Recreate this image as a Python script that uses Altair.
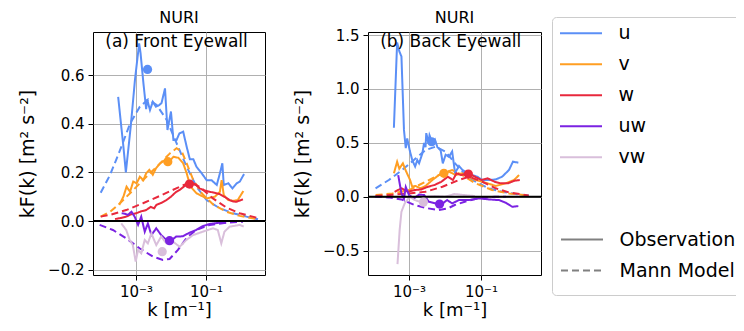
import altair as alt
import pandas as pd

# ---------------- data (log10 k, kF(k)) ----------------
VARS = ["u", "v", "w", "uw", "vw"]
MODELS = ["Observation", "Mann Model"]
COLORS = ["#5b8ff6", "#ff9e22", "#e8283c", "#7b22e2", "#d9bfdb"]

# Panel (a) Front Eyewall
A_U_OBS = [(-3.51, 0.51), (-3.36, 0.305), (-3.29, 0.20), (-3.15, 0.39), (-3.03, 0.58), (-2.91, 0.73),
           (-2.87, 0.69), (-2.79, 0.57), (-2.71, 0.46), (-2.68, 0.50), (-2.60, 0.456), (-2.52, 0.49),
           (-2.43, 0.47), (-2.33, 0.477), (-2.27, 0.485), (-2.17, 0.545), (-2.10, 0.374), (-2.00, 0.45),
           (-1.93, 0.333), (-1.84, 0.333), (-1.76, 0.36), (-1.65, 0.367), (-1.55, 0.305), (-1.46, 0.254),
           (-1.36, 0.254), (-1.27, 0.223), (-1.12, 0.196), (-0.98, 0.168), (-0.84, 0.168), (-0.69, 0.148),
           (-0.60, 0.196), (-0.53, 0.237), (-0.49, 0.148), (-0.36, 0.155), (-0.24, 0.134), (-0.12, 0.155),
           (-0.03, 0.162), (0.09, 0.193)]
A_U_MANN = [(-4.01, 0.116), (-3.74, 0.19), (-3.46, 0.29), (-3.17, 0.40), (-2.89, 0.47), (-2.65, 0.50),
            (-2.41, 0.477), (-2.12, 0.415), (-1.84, 0.32), (-1.55, 0.223), (-1.27, 0.141), (-0.98, 0.086),
            (-0.60, 0.052), (-0.22, 0.032), (0.16, 0.018), (0.49, 0.007)]
A_V_OBS = [(-3.48, 0.066), (-3.36, 0.10), (-3.27, 0.141), (-3.17, 0.12), (-3.08, 0.162), (-2.98, 0.155),
           (-2.89, 0.182), (-2.79, 0.168), (-2.71, 0.196), (-2.62, 0.21), (-2.52, 0.19), (-2.43, 0.216),
           (-2.31, 0.237), (-2.17, 0.25), (-2.05, 0.245), (-1.93, 0.264), (-1.79, 0.26), (-1.65, 0.237),
           (-1.55, 0.196), (-1.44, 0.141), (-1.27, 0.114), (-0.98, 0.093), (-0.74, 0.10), (-0.60, 0.12),
           (-0.55, 0.168), (-0.49, 0.107), (-0.36, 0.086), (-0.22, 0.083), (-0.09, 0.086), (0.07, 0.123)]
A_V_MANN = [(-4.01, 0.018), (-3.74, 0.038), (-3.46, 0.073), (-3.17, 0.114), (-2.89, 0.155), (-2.60, 0.196),
            (-2.31, 0.237), (-2.03, 0.278), (-1.84, 0.299), (-1.69, 0.285), (-1.55, 0.237), (-1.36, 0.168),
            (-1.12, 0.114), (-0.78, 0.066), (-0.41, 0.038), (-0.03, 0.021), (0.45, 0.008)]
A_W_OBS = [(-3.60, 0.008), (-3.45, 0.012), (-3.28, 0.018), (-3.13, 0.028), (-2.99, 0.032), (-2.85, 0.04),
           (-2.71, 0.045), (-2.58, 0.058), (-2.48, 0.052), (-2.42, 0.066), (-2.27, 0.075), (-2.13, 0.086),
           (-2.00, 0.10), (-1.85, 0.12), (-1.73, 0.13), (-1.61, 0.144), (-1.49, 0.15), (-1.37, 0.155),
           (-1.28, 0.15), (-1.18, 0.134), (-1.03, 0.125), (-0.89, 0.12), (-0.75, 0.116), (-0.61, 0.111),
           (-0.45, 0.098), (-0.32, 0.086), (-0.22, 0.08), (-0.13, 0.079), (0.06, 0.089)]
A_W_MANN = [(-4.01, 0.018), (-3.75, 0.025), (-3.28, 0.045), (-2.80, 0.073), (-2.32, 0.103), (-1.85, 0.134),
            (-1.47, 0.158), (-1.18, 0.141), (-0.80, 0.093), (-0.42, 0.056), (-0.04, 0.032), (0.44, 0.014),
            (0.55, 0.010)]
A_UW_OBS = [(-3.41, 0.032), (-3.32, 0.030), (-3.23, 0.025), (-3.13, 0.038), (-3.04, 0.018), (-2.94, -0.016),
            (-2.85, 0.018), (-2.75, -0.044), (-2.66, -0.01), (-2.56, -0.058), (-2.42, -0.03), (-2.28, -0.058),
            (-2.13, -0.078), (-1.99, -0.08), (-1.85, -0.064), (-1.66, -0.063), (-1.47, -0.048), (-1.28, -0.037),
            (-1.09, -0.021), (-0.89, -0.012), (-0.61, -0.007), (-0.42, -0.007)]
A_UW_MANN = [(-4.04, -0.016), (-3.66, -0.037), (-3.28, -0.071), (-2.90, -0.112), (-2.51, -0.147),
             (-2.23, -0.16), (-2.04, -0.156), (-1.80, -0.119), (-1.56, -0.071), (-1.28, -0.037),
             (-0.89, -0.016), (-0.42, -0.007), (0.06, -0.003)]
A_VW_OBS = [(-3.42, -0.01), (-3.28, -0.037), (-3.18, -0.078), (-3.09, -0.099), (-3.01, -0.167), (-2.94, -0.119),
            (-2.85, -0.133), (-2.75, -0.078), (-2.66, -0.092), (-2.56, -0.051), (-2.42, -0.099), (-2.28, -0.064),
            (-2.13, -0.092), (-1.94, -0.085), (-1.75, -0.106), (-1.56, -0.078), (-1.37, -0.058), (-1.09, -0.044),
            (-0.80, -0.03), (-0.66, -0.037), (-0.56, -0.092), (-0.47, -0.044), (-0.32, -0.023), (-0.18, -0.02),
            (-0.04, -0.016), (0.08, -0.023)]
A_DOTS = [(-2.67, 0.623), (-2.09, 0.244), (-1.47, 0.152), (-2.04, -0.081), (-2.25, -0.126)]

# Panel (b) Back Eyewall
B_U_OBS = [(-3.42, 0.64), (-3.33, 1.43), (-3.27, 1.35), (-3.21, 1.30), (-3.14, 0.62), (-3.09, 0.45),
           (-3.05, 0.54), (-2.98, 0.43), (-2.91, 0.34), (-2.83, 0.28), (-2.77, 0.34), (-2.72, 0.31),
           (-2.63, 0.40), (-2.58, 0.50), (-2.54, 0.46), (-2.52, 0.59), (-2.46, 0.50), (-2.43, 0.57),
           (-2.35, 0.50), (-2.28, 0.53), (-2.21, 0.46), (-2.12, 0.43), (-2.06, 0.31), (-1.98, 0.39),
           (-1.89, 0.37), (-1.80, 0.42), (-1.72, 0.22), (-1.61, 0.285), (-1.52, 0.25), (-1.38, 0.22),
           (-1.24, 0.20), (-1.10, 0.186), (-0.96, 0.155), (-0.78, 0.155), (-0.59, 0.16), (-0.41, 0.186),
           (-0.22, 0.248), (-0.11, 0.325), (0.04, 0.316)]
B_U_MANN = [(-3.93, 0.078), (-3.56, 0.155), (-3.19, 0.248), (-2.81, 0.356), (-2.54, 0.433), (-2.26, 0.464),
            (-1.98, 0.417), (-1.72, 0.31), (-1.43, 0.201), (-1.15, 0.139), (-0.78, 0.078), (-0.41, 0.046),
            (-0.04, 0.025), (0.33, 0.012)]
B_V_OBS = [(-3.42, 0.217), (-3.33, 0.325), (-3.27, 0.26), (-3.17, 0.31), (-3.10, 0.25), (-2.97, 0.155),
           (-2.91, 0.093), (-2.82, 0.10), (-2.68, 0.078), (-2.54, 0.10), (-2.35, 0.155), (-2.17, 0.201),
           (-2.03, 0.217), (-1.89, 0.233), (-1.70, 0.201), (-1.52, 0.217), (-1.33, 0.186), (-1.15, 0.155),
           (-0.87, 0.13), (-0.59, 0.10), (-0.31, 0.124), (-0.08, 0.155), (0.06, 0.201)]
B_V_MANN = [(-3.93, 0.016), (-3.46, 0.03), (-3.00, 0.062), (-2.54, 0.139), (-2.07, 0.217), (-1.80, 0.248),
            (-1.52, 0.201), (-1.15, 0.124), (-0.69, 0.062), (-0.22, 0.031), (0.33, 0.01)]
B_W_OBS = [(-3.40, 0.046), (-3.21, 0.078), (-3.03, 0.046), (-2.84, 0.062), (-2.66, 0.068), (-2.47, 0.093),
           (-2.29, 0.109), (-2.10, 0.139), (-1.92, 0.186), (-1.78, 0.155), (-1.68, 0.217), (-1.55, 0.201),
           (-1.36, 0.217), (-1.17, 0.186), (-0.99, 0.155), (-0.81, 0.17), (-0.62, 0.139), (-0.44, 0.124),
           (-0.25, 0.124), (-0.07, 0.148), (0.08, 0.155)]
B_W_MANN = [(-3.93, 0.006), (-3.00, 0.031), (-2.54, 0.046), (-2.07, 0.093), (-1.61, 0.155), (-1.33, 0.186),
            (-0.96, 0.139), (-0.59, 0.078), (-0.22, 0.04), (0.33, 0.012)]
B_UW_OBS = [(-3.30, 0.20), (-3.21, 0.03), (-3.14, -0.02), (-3.09, 0.09), (-3.00, 0.016), (-2.86, -0.015),
            (-2.72, 0.02), (-2.58, 0.016), (-2.45, -0.046), (-2.26, -0.062), (-2.12, -0.077), (-1.94, -0.031),
            (-1.80, -0.062), (-1.61, -0.031), (-1.33, -0.031), (-1.06, -0.015), (-0.78, -0.025), (-0.50, -0.031),
            (-0.31, -0.056), (-0.13, -0.093), (0.04, -0.087)]
B_UW_MANN = [(-3.95, 0.0), (-3.58, -0.006), (-3.21, -0.025), (-2.84, -0.077), (-2.47, -0.108), (-2.19, -0.124),
             (-1.92, -0.108), (-1.73, -0.077), (-1.45, -0.046), (-1.08, -0.015), (-0.62, 0.0), (-0.30, 0.0)]
B_VW_OBS = [(-3.32, -0.625), (-3.26, -0.309), (-3.21, -0.139), (-3.12, -0.062), (-2.98, 0.0), (-2.84, -0.031),
            (-2.70, -0.046), (-2.52, 0.0), (-2.29, 0.006), (-2.01, 0.0), (-1.73, 0.025), (-1.45, 0.015),
            (-1.17, 0.006)]
B_DOTS = [(-2.37, 0.51), (-2.03, 0.217), (-1.35, 0.21), (-2.15, -0.068), (-2.60, -0.05)]

PANEL_TITLES = ["(a) Front Eyewall", "(b) Back Eyewall"]
A_YTICKS = [-0.2, 0.0, 0.2, 0.4, 0.6]
B_YTICKS = [-0.5, 0.0, 0.5, 1.0, 1.5]
XTICKS = [1e-3, 1e-1]


def lines_df(series):
    rows = []
    for (var, model), pts in series.items():
        for i, (lk, v) in enumerate(pts):
            rows.append({"var": var, "model": model, "series": var + model, "i": i, "k": 10 ** lk, "val": v})
    return pd.DataFrame(rows)


def dots_df(pts):
    return pd.DataFrame([{"var": var, "k": 10 ** lk, "val": v} for var, (lk, v) in zip(VARS, pts)])


A_LINES = lines_df({("u", "Observation"): A_U_OBS, ("u", "Mann Model"): A_U_MANN,
                    ("v", "Observation"): A_V_OBS, ("v", "Mann Model"): A_V_MANN,
                    ("w", "Observation"): A_W_OBS, ("w", "Mann Model"): A_W_MANN,
                    ("uw", "Observation"): A_UW_OBS, ("uw", "Mann Model"): A_UW_MANN,
                    ("vw", "Observation"): A_VW_OBS})
B_LINES = lines_df({("u", "Observation"): B_U_OBS, ("u", "Mann Model"): B_U_MANN,
                    ("v", "Observation"): B_V_OBS, ("v", "Mann Model"): B_V_MANN,
                    ("w", "Observation"): B_W_OBS, ("w", "Mann Model"): B_W_MANN,
                    ("uw", "Observation"): B_UW_OBS, ("uw", "Mann Model"): B_UW_MANN,
                    ("vw", "Observation"): B_VW_OBS})

FONT = "DejaVu Sans"
cscale = alt.Scale(domain=VARS, range=COLORS)
dscale = alt.Scale(domain=MODELS, range=[[1, 0], [7, 4]])

# origin of the drawing = top-left of panel (a) plot area, at page (93, 32)
OX, OY = 93, 32
PL, PT = OX - 8, OY - 8
SVG_W, SVG_H = 728, 311
LEG_FS = 19
SYM = "M-1.077,0H1.077"   # 42 px long line at symbolSize 1521
color_legend = alt.Legend(orient="none", legendX=560 - OX, legendY=18 - OY, title=None,
                          symbolType=SYM, symbolSize=1521, symbolStrokeWidth=2, clipHeight=30.5,
                          labelFontSize=LEG_FS, labelFont=FONT, labelColor="black",
                          rowPadding=0, symbolOffset=0.5, labelOffset=17, padding=0)
dash_legend = alt.Legend(orient="none", legendX=552 - OX, legendY=17 - OY, title=" ",
                         titleFontSize=1, titlePadding=197,
                         symbolType=SYM, symbolSize=1521, symbolStrokeWidth=2, clipHeight=31,
                         symbolStrokeColor="#808080",
                         labelFontSize=LEG_FS, labelFont=FONT, labelColor="black",
                         rowPadding=0, symbolOffset=0.5, labelOffset=17, padding=9,
                         strokeColor="#cccccc", cornerRadius=4)


def panel(lines, dots, xdom, ydom, yticks, note, note_v, width, title_offset):
    x = alt.X("k:Q", scale=alt.Scale(type="log", domain=xdom, nice=False),
              axis=alt.Axis(values=XTICKS, labelExpr="datum.value < 0.01 ? '10⁻³' : '10⁻¹'",
                            title="k [m⁻¹]"))
    y = alt.Y("val:Q", scale=alt.Scale(domain=ydom, nice=False, zero=False),
              axis=alt.Axis(values=yticks, format=".1f", title="kF(k) [m² s⁻²]"))
    ln = alt.Chart(lines).mark_line(strokeWidth=2, clip=True).encode(
        x=x, y=y,
        color=alt.Color("var:N", scale=cscale, legend=color_legend),
        strokeDash=alt.StrokeDash("model:N", scale=dscale, legend=dash_legend),
        detail="series:N", order="i:Q")
    zero = alt.Chart(pd.DataFrame({"val": [0.0]})).mark_rule(color="black", strokeWidth=2).encode(
        y=alt.Y("val:Q"))
    pts = alt.Chart(dots).mark_circle(size=85, opacity=1).encode(
        x=alt.X("k:Q"), y=alt.Y("val:Q"),
        color=alt.Color("var:N", scale=cscale, legend=None))
    txt = alt.Chart(pd.DataFrame({"k": [10 ** -1.84], "val": [note_v], "t": [note]})).mark_text(
        fontSize=17, font=FONT, color="black", baseline="middle", align="center").encode(
        x=alt.X("k:Q"), y=alt.Y("val:Q"), text="t:N")
    return alt.layer(ln, zero, pts, txt).properties(
        width=width, height=243,
        title=alt.TitleParams("NURI", fontSize=16, font=FONT, fontWeight="normal", offset=title_offset))


a = panel(A_LINES, dots_df(A_DOTS), [10 ** -4.23, 10 ** 0.69], [-0.222, 0.777], A_YTICKS,
          PANEL_TITLES[0], 0.736, 172, 6)
b = panel(B_LINES, dots_df(B_DOTS), [10 ** -4.14, 10 ** 0.67], [-0.726, 1.528], B_YTICKS,
          PANEL_TITLES[1], 1.432, 173, 2)

chart = alt.hconcat(a, b, spacing=26).resolve_scale(
    color="shared", strokeDash="shared").resolve_legend(color="shared", strokeDash="shared").properties(
    autosize=alt.AutoSizeParams(type="none"),
    padding={"left": PL, "top": PT, "right": SVG_W - PL, "bottom": SVG_H - PT}
).configure_view(stroke="black", strokeWidth=1).configure_axis(
    domain=False, grid=True, gridColor="#b0b0b0", gridWidth=1,
    tickColor="black", tickSize=5, tickWidth=1,
    labelFont=FONT, labelFontSize=15, labelColor="black", labelPadding=4,
    titleFont=FONT, titleFontSize=18, titleFontWeight="normal", titleColor="black"
).configure_axisY(titlePadding=10, titleFontSize=19).configure_axisX(titlePadding=2)

chart.save("out.html", embed_options={"renderer": "svg", "actions": False})
